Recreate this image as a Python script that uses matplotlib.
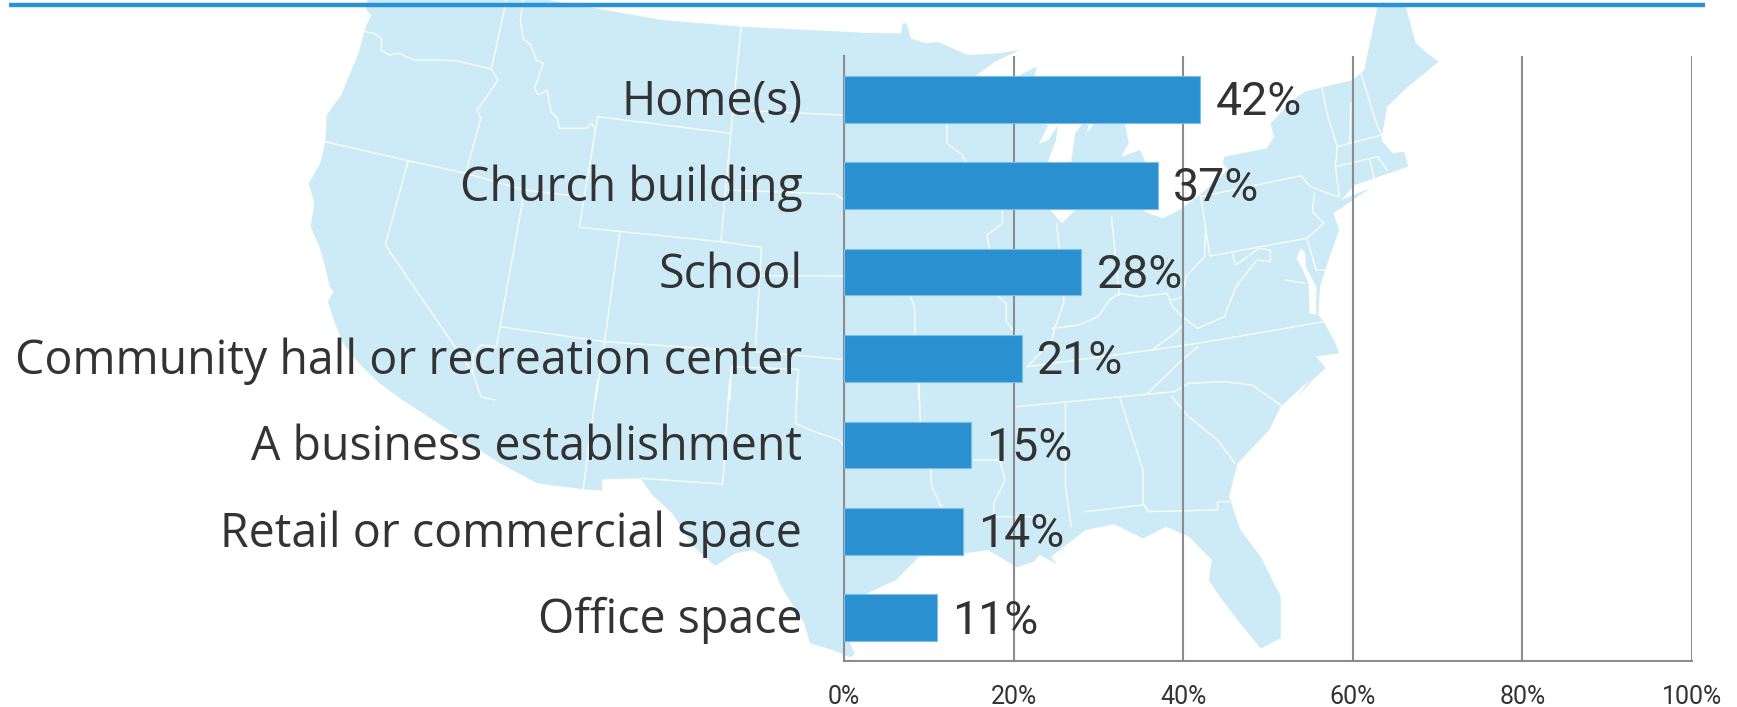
import numpy as np
import matplotlib
matplotlib.use('Agg')
from matplotlib import pyplot as plt
from matplotlib.transforms import ScaledTranslation

W, H = 1737, 707

categories = ['Home(s)', 'Church building', 'School', 'Community hall or recreation center',
              'A business establishment', 'Retail or commercial space', 'Office space']
values = [42, 37, 28, 21, 15, 14, 11]
x_ticks = [0, 20, 40, 60, 80, 100]


def z1(pts):
    return [(280 + x / 2.613, y / 3) for x, y in pts]


def z2(pts):
    return [(880 + x / 2.613, y / 3) for x, y in pts]


def z3(pts):
    return [(500 + x / 1.742, 380 + y / 3) for x, y in pts]


outline = (
    z1([(228, 0), (225, 30), (238, 45), (228, 70), (220, 95), (205, 160), (185, 215), (160, 285),
        (122, 345), (118, 425), (105, 490), (75, 550), (90, 610), (80, 680), (103, 740), (118, 800),
        (130, 860), (140, 875), (125, 905), (145, 975), (165, 1030), (210, 1095), (260, 1150), (320, 1200)])
    + z3([(0, 250), (65, 310), (145, 328), (178, 332), (178, 298), (245, 295), (265, 345), (300, 400),
          (340, 505), (375, 558), (410, 520), (440, 510), (470, 540), (490, 620), (530, 730), (540, 790),
          (580, 810), (610, 832), (618, 822), (610, 790), (640, 640), (690, 600), (730, 530), (790, 525),
          (850, 510), (870, 530), (900, 562), (930, 545), (940, 525), (970, 552), (960, 530), (1020, 450),
          (1070, 433), (1120, 475), (1160, 440), (1200, 470), (1240, 540), (1235, 600), (1250, 640),
          (1280, 710), (1325, 805), (1360, 775), (1360, 650), (1325, 530), (1290, 450), (1270, 350),
          (1285, 250), (1340, 150), (1360, 80), (1410, 0)])
    + z2([(1090, 1195), (1130, 1140), (1165, 1105), (1140, 1070), (1200, 1060), (1190, 1030), (1160, 965),
          (1145, 945), (1150, 860), (1175, 770), (1200, 690), (1185, 640), (1280, 565), (1205, 600), (1240, 555),
          (1380, 500), (1370, 455), (1340, 460), (1310, 420), (1325, 320), (1380, 260), (1460, 185),
          (1430, 160), (1400, 130), (1375, 25), (1345, 8), (1300, 20), (1280, 130), (1265, 210), (1235, 240),
          (1110, 275), (1080, 300), (1020, 370), (1030, 410), (1010, 445), (900, 470), (895, 490), (910, 510),
          (830, 590), (790, 625), (740, 655), (690, 635), (695, 490), (680, 450), (630, 470), (650, 430),
          (640, 370), (560, 370), (540, 400), (545, 375), (530, 370), (510, 400), (500, 480), (510, 630),
          (475, 670), (445, 630), (440, 480), (460, 420), (465, 375), (440, 420), (415, 432), (440, 375),
          (420, 370), (400, 240), (410, 200), (370, 222), (360, 240), (250, 228), (300, 185), (365, 150),
          (310, 160), (230, 165), (150, 125), (120, 130), (80, 115), (70, 70), (60, 70), (55, 100)])
    + z1([(1525, 98), (1205, 80), (1000, 60), (800, 20), (700, 0)])
)

# chesapeake bay, drawn white on top of the land
bay = z2([(1100, 745), (1088, 775), (1105, 810), (1120, 850), (1122, 940), (1140, 945), (1140, 860),
          (1112, 800), (1112, 760)])

borders = [
    z1([(592, 0), (552, 207)]),
    z1([(222, 95), (245, 100), (265, 115), (265, 150), (285, 165), (310, 160), (350, 180), (410, 180),
        (460, 182), (552, 207), (570, 240), (540, 290), (515, 330), (525, 355), (485, 520)]),
    z1([(118, 425), (335, 482), (485, 520), (640, 570), (785, 590)]),
    z1([(830, 350), (1178, 400), (1152, 725), (782, 682), (830, 350)]),
    z1([(635, 0), (628, 60), (635, 115), (655, 135), (670, 180), (688, 190), (665, 265), (675, 285),
        (698, 270), (708, 335), (725, 355), (730, 385), (800, 385), (815, 370), (825, 390)]),
    z1([(1205, 80), (1178, 400)]),
    z1([(1180, 330), (1470, 345)]),
    z1([(1165, 570), (1450, 582), (1475, 600)]),
    z1([(1152, 725), (1258, 742), (1242, 1050)]),
    z1([(888, 697), (848, 1025), (825, 1200)]),
    z1([(575, 980), (848, 1025), (1242, 1055), (1470, 1078)]),
    z1([(636, 590), (575, 980), (565, 1040), (525, 1035), (505, 1060), (505, 1120)]),
    z1([(335, 482), (275, 735), (460, 1045), (505, 1120), (525, 1190), (560, 1200)]),
    z1([(1255, 827), (1470, 828)]),
    z1([(1175, 1200), (1180, 1100), (1355, 1108), (1350, 1200)]),
    z3([(170, 0), (145, 328)]),
    z3([(400, 0), (388, 312), (245, 295)]),
    z3([(518, 0), (515, 130), (540, 150), (590, 180), (600, 200)]),
    z3([(730, 0), (732, 125)]),
    z3([(750, 265), (752, 320), (770, 385)]),
    z3([(825, 240), (870, 240), (880, 300), (860, 370), (860, 410), (955, 410)]),
    z3([(985, 70), (985, 320), (995, 440)]),
    z3([(1080, 55), (1120, 270), (1120, 370), (1130, 395), (1250, 390), (1250, 365), (1270, 365)]),
    z3([(1020, 395), (1120, 375)]),
    z3([(900, 80), (1175, 35)]),
    z3([(1170, 50), (1200, 110), (1250, 180), (1280, 250)]),
    z3([(1175, 35), (1200, 10), (1260, 5), (1310, 15), (1360, 75)]),
    z2([(175, 370), (175, 430), (215, 465), (225, 486)]),
    z2([(320, 630), (320, 670), (280, 705), (285, 745)]),
    z2([(305, 885), (330, 910), (330, 965), (355, 1000)]),
    z2([(80, 890), (90, 920), (92, 1005)]),
    z2([(100, 1145), (100, 1195)]),
    z2([(462, 670), (468, 745)]),
    z2([(480, 885), (480, 910), (455, 990), (450, 1020), (385, 1100)]),
    z2([(605, 650), (625, 885)]),
    z2([(450, 985), (520, 975), (570, 950), (600, 900), (625, 880), (680, 890), (750, 880), (765, 920), (790, 950)]),
    z2([(838, 590), (862, 768), (1115, 715), (1160, 670), (1130, 635), (1135, 580)]),
    z2([(838, 590), (1100, 527), (1125, 560), (1195, 590)]),
    z2([(850, 700), (848, 770), (800, 830), (790, 890), (765, 900)]),
    z2([(790, 950), (830, 985), (900, 950), (930, 860), (985, 780), (1020, 785), (1020, 750), (990, 745),
        (930, 795), (920, 760)]),
    z2([(385, 1100), (710, 1050), (830, 1030), (1160, 965)]),
    z2([(710, 1050), (770, 1000), (795, 970)]),
    z2([(700, 1180), (780, 1090), (830, 1040)]),
    z2([(1155, 265), (1170, 350), (1195, 440), (1190, 500), (1200, 590)]),
    z2([(1230, 310), (1228, 430)]),
    z2([(1255, 215), (1300, 380), (1310, 400)]),
    z2([(1195, 440), (1310, 405)]),
    z2([(1190, 500), (1300, 470), (1325, 510)]),
    z2([(1280, 480), (1290, 530)]),
    z2([(1115, 715), (1140, 810), (1175, 810)]),
    z2([(1060, 840), (1110, 850)]),
]

fig = plt.figure(figsize=(W / 100, H / 100), dpi=100)

bg = fig.add_axes([0, 0, 1, 1])
bg.set_xlim(0, W)
bg.set_ylim(H, 0)
bg.axis('off')
bg.fill(*zip(*outline), color='#CCEBF7', lw=0)
bg.fill(*zip(*bay), color='white', lw=0)
for line in borders:
    bg.plot(*zip(*line), color='white', lw=1.0, alpha=0.9)
bg.plot([9, 1705], [5, 5], color='#2A93D8', lw=3.2, solid_capstyle='butt')

ax = fig.add_axes([844 / W, 1 - 661 / H, (1692 - 844) / W, (661 - 56) / H])
ax.patch.set_alpha(0)
y = np.arange(len(categories))
bars = ax.barh(y, values, height=0.54, color='#2A90D0', edgecolor='#7CC0EA', linewidth=0.8, zorder=3)
ax.set_xlim(0, 100)
ax.set_ylim(len(categories) - 0.5, -0.5)
ax.set_yticks(y)
ax.set_yticklabels(categories, fontsize=33.5, color='#333333', family='Open Sans')
ax.set_xticks(x_ticks)
ax.set_xticklabels([f'{t}%' for t in x_ticks], fontsize=18, color='#333333', family='Roboto')
ax.tick_params(axis='y', length=0, pad=30)
ax.tick_params(axis='x', length=0, pad=17)
up = ScaledTranslation(0, 2 / 72, fig.dpi_scale_trans)
for lab in ax.get_yticklabels():
    lab.set_transform(lab.get_transform() + up)
ax.xaxis.grid(True, color='#8C8C8C', lw=1.5, zorder=1)
ax.set_axisbelow(True)
for side in ['top', 'right']:
    ax.spines[side].set_visible(False)
for side in ['left', 'bottom']:
    ax.spines[side].set_color('#8C8C8C')
    ax.spines[side].set_linewidth(1.5)
for v, i in zip(values, y):
    ax.annotate(f'{v}%', (v, i), xytext=(11, -2), textcoords='offset points', va='center', ha='left',
                fontsize=33.5, color='#333333', family='Roboto', zorder=4)

plt.savefig('out.png', dpi=100)
